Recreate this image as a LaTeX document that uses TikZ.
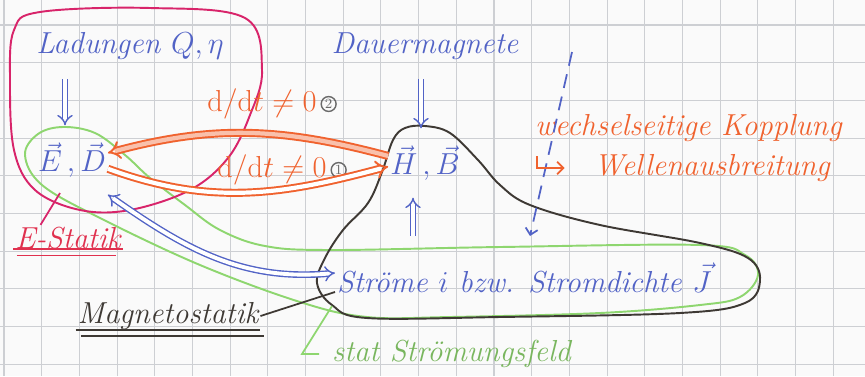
\documentclass[tikz,border=0pt]{standalone}
\usepackage{amsmath}
\usepackage{amssymb}
\usetikzlibrary{arrows.meta,positioning}
\definecolor{inkblue}{HTML}{5263C6}
\definecolor{inkmagenta}{HTML}{D8246A}
\definecolor{inkred}{HTML}{E0304E}
\definecolor{inkgreen}{HTML}{8ED66F}
\definecolor{inkorange}{HTML}{F0622E}
\definecolor{inkbrown}{HTML}{3E3934}
\definecolor{inkgrey}{HTML}{6A6A6A}
\definecolor{papergrid}{HTML}{CDCFD3}
\tikzset{
  hand/.style={font=\LARGE\itshape,inner sep=1pt},
  blob/.style={line width=1.1pt},
  dblarrow/.style={draw=inkblue,double=white,double distance=2.2pt,line width=0.8pt,-{Implies}},
  ddt/.style={draw=inkorange,double=white,double distance=2.4pt,line width=1.1pt,-{Implies}},
  circnum/.style={circle,draw=inkgrey,text=inkgrey,line width=0.8pt,inner sep=0.6pt,font=\footnotesize},
  pin/.style={line width=1pt}
}

\begin{document}
\begin{tikzpicture}[x=0.02cm,y=-0.02cm]
  \useasboundingbox (0,0) rectangle (865,376);
  % squared paper
  \fill[black!2] (0,0) rectangle (865,376);
  \begin{scope}[shift={(4,25)}]
    \draw[papergrid,line width=0.6pt,step=0.754cm] (-4,-25) grid (861,351);
  \end{scope}

  % field regions
  \draw[blob,inkgreen] plot[smooth cycle,tension=0.6] coordinates {
    (63,127) (95,133) (125,155) (150,178) (185,205) (220,230) (265,246)
    (330,250) (500,247) (700,245) (745,255) (758,275) (740,297) (700,305)
    (600,313) (450,317) (367,317) (300,302) (200,265) (100,218) (42,185)
    (25,155) (38,134)};
  \draw[blob,inkbrown] plot[smooth cycle,tension=0.6] coordinates {
    (317,283) (325,258) (343,230) (368,203) (382,172) (393,140) (405,128)
    (425,126) (450,133) (478,160) (500,185) (530,205) (600,225) (700,243)
    (748,258) (760,280) (745,303) (680,313) (500,317) (367,318) (332,305)};
  \draw[blob,inkmagenta] plot[smooth cycle,tension=0.6] coordinates {
    (10,80) (14,30) (40,12) (150,8) (245,18) (262,70) (250,115) (228,158)
    (190,190) (130,210) (80,210) (35,190) (14,150)};

  % sources and fields
  \node[hand,text=inkblue] (lad) at (130,46) {Ladungen $Q,\eta$};
  \node[hand,text=inkblue] (dauer) at (425,46) {Dauermagnete};
  \node[hand,text=inkblue] (ed) at (72,160) {$\vec{E}\,,\vec{D}$};
  \node[hand,text=inkblue] (hb) at (425,163) {$\vec{H}\,,\vec{B}$};
  \node[hand,text=inkblue,anchor=west] (stroeme) at (335,278) {Str\"ome $i$ bzw. Stromdichte $\vec{J}$};

  \node[hand,text=inkorange] (dt2) at (262,104) {$\mathrm{d}/\mathrm{d}t\neq 0$};
  \node[circnum,right=1pt of dt2] (c2) {2};
  \node[hand,text=inkorange] (dt1) at (272,170) {$\mathrm{d}/\mathrm{d}t\neq 0$};
  \node[circnum,right=1pt of dt1] (c1) {1};

  \node[hand,text=inkorange,anchor=west] (kopplung) at (533,128) {wechselseitige Kopplung};
  \node[hand,text=inkorange,anchor=west] (wellen) at (592,168) {Wellenausbreitung};

  \node[hand,text=inkred] (estatik) at (68,238) {E-Statik};
  \node[hand,text=inkbrown] (mstatik) at (168,316) {Magnetostatik};
  \node[hand,text=inkgreen!85!black,anchor=west] (sfeld) at (330,354) {stat Str\"omungsfeld};

  % arrows
  \draw[dblarrow,shorten <=0.35cm,shorten >=0.3cm] ([xshift=-0.14cm]ed.north |- lad.south) -- ([xshift=-0.14cm]ed.north);
  \draw[dblarrow,shorten <=0.35cm,shorten >=0.3cm] ([xshift=-0.08cm]hb.north |- dauer.south) -- ([xshift=-0.08cm]hb.north);
  \draw[dblarrow,shorten <=0.5cm,shorten >=0.3cm] ([xshift=-0.24cm]hb.south |- stroeme.north) -- ([xshift=-0.24cm]hb.south);
  \draw[dblarrow,{Implies}-{Implies}] ([yshift=-0.3cm]ed.south east) to[out=-35,in=185] ([yshift=0.1cm]stroeme.west);

  \draw[ddt,double=inkorange!40] ([yshift=4pt]hb.west) to[out=165,in=15] ([yshift=4pt]ed.east);
  \draw[ddt] ([yshift=-5pt]ed.east) to[out=-20,in=195] ([yshift=-2pt]hb.west);

  \coordinate (wtop) at (572,52);
  \coordinate (wend) at (530,236);
  \draw[inkblue,line width=1pt,dash pattern=on 8pt off 5pt,-{Straight Barb}] (wtop) -- (wend);

  \coordinate (hook) at (537,156);
  \draw[inkorange,pin,-{Straight Barb}] (hook) |- ([xshift=-0.55cm]wellen.west);

  % pointers to the names
  \coordinate (epin) at (60,193);
  \draw[inkmagenta,pin] (epin) -- ([xshift=-0.55cm]estatik.north);
  \draw[inkred,pin] ([yshift=1pt]estatik.south west) -- ([yshift=1pt]estatik.south east);
  \draw[inkred,pin] ([yshift=-2.5pt,xshift=2pt]estatik.south west) -- ([yshift=-2.5pt,xshift=-4pt]estatik.south east);

  \coordinate (mpin) at (335,292);
  \draw[inkbrown,pin] (mstatik.east) -- (mpin);
  \draw[inkbrown,pin] ([yshift=1pt]mstatik.south west) -- ([yshift=1pt]mstatik.south east);
  \draw[inkbrown,pin] ([yshift=-2.5pt,xshift=3pt]mstatik.south west) -- ([yshift=-2.5pt,xshift=2pt]mstatik.south east);

  \coordinate (spin) at (332,306);
  \draw[inkgreen,pin] (spin) -- ([xshift=-0.56cm]sfeld.west) -- ([xshift=-0.22cm]sfeld.west);
\end{tikzpicture}
\end{document}
